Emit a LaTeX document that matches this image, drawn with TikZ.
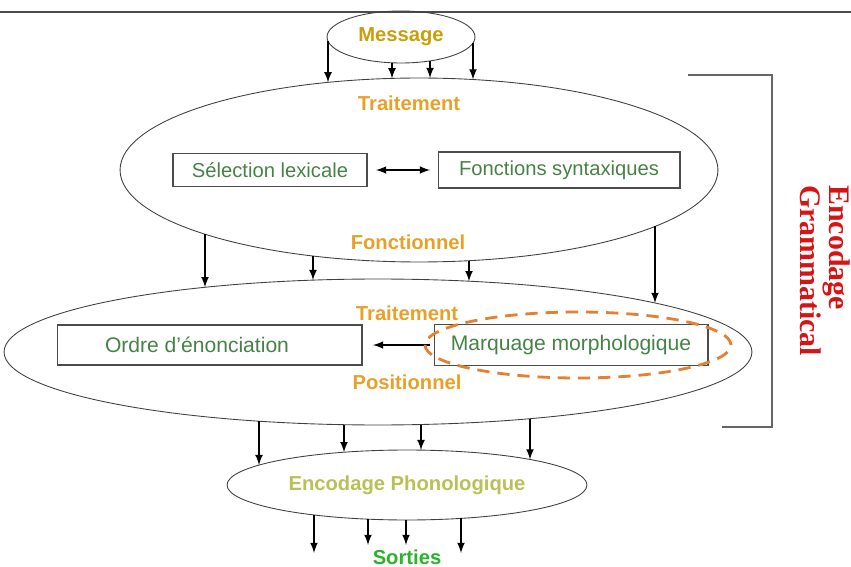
\documentclass[tikz,border=0pt]{standalone}
\usepackage{fontspec}
\setmainfont{Liberation Sans}
\newfontfamily\serifbf{Liberation Serif}
\usepackage{tikz}
\usetikzlibrary{shapes,arrows}

\definecolor{msgcol}{RGB}{200,158,10}
\definecolor{orcol}{RGB}{232,160,40}
\definecolor{phocol}{RGB}{185,192,85}
\definecolor{sorcol}{RGB}{40,180,40}
\definecolor{boxcol}{RGB}{70,130,70}
\definecolor{redcol}{RGB}{215,20,20}
\definecolor{dashcol}{RGB}{228,128,50}

\tikzset{
  ell/.style={ellipse,draw=black!75,line width=0.5pt,inner sep=0pt,outer sep=0pt},
  lab/.style={font=\bfseries\fontsize{11.5}{13}\selectfont,text=orcol},
  boite/.style={draw=black!70,line width=0.6pt,text=boxcol,inner sep=0pt,outer sep=0pt,
    font=\fontsize{11.5}{13}\selectfont},
  fl/.style={-latex,line width=1pt},
  declare function={
    ebot(\px,\qx,\qy,\ra,\rb)=\qy+\rb*sqrt(1-((\px-\qx)/\ra)^2);
    etop(\px,\qx,\qy,\ra,\rb)=\qy-\rb*sqrt(1-((\px-\qx)/\ra)^2);
  }
}

\begin{document}
\begin{tikzpicture}[x=0.02cm,y=-0.02cm]
\useasboundingbox (0,0) rectangle (851,567);
\draw[black!70,line width=0.6pt] (0,12) -- (851,12);

\node[ell,minimum width=2.96cm,minimum height=1.04cm,
  font=\bfseries\fontsize{11.5}{13}\selectfont,text=msgcol] (msg) at (401,37) {Message};
\node[ell,minimum width=11.96cm,minimum height=3.68cm] (fonc) at (419,170) {};
\node[ell,minimum width=14.96cm,minimum height=2.92cm] (posi) at (378,352) {};
\node[ell,minimum width=7.2cm,minimum height=1.4cm,
  font=\bfseries\fontsize{11.5}{13}\selectfont,text=phocol] (phono) at (407,485) {Encodage Phonologique};

\node[lab] (trait1) at (409,103) {Traitement};
\node[lab] (fonctionnel) at (408,242) {Fonctionnel};
\node[lab] (trait2) at (407,313) {Traitement};
\node[lab] (positionnel) at (407,382) {Positionnel};

\node[boite,minimum width=3.88cm,minimum height=0.66cm] (lex) at (270,170) {Sélection lexicale};
\node[boite,minimum width=4.84cm,minimum height=0.72cm] (synt) at (559,170) {Fonctions syntaxiques};
\node[boite,minimum width=6.1cm,minimum height=0.8cm,font=\fontsize{12}{14}\selectfont] (ordre) at (209.5,345) {Ordre d’énonciation\hspace*{0.5cm}};
\node[boite,minimum width=5.48cm,minimum height=0.82cm,font=\fontsize{12}{14}\selectfont] (marq) at (571,345) {Marquage morphologique};

\draw[fl,latex-latex,shorten <=0.18cm,shorten >=0.16cm] (lex) -- (synt);
\draw[fl,shorten <=0.08cm,shorten >=0.22cm] (marq.west) -- (ordre.east);

\node[ellipse,draw=dashcol,line width=1.6pt,dash pattern=on 7pt off 4.5pt,inner sep=0pt,
  minimum width=6.12cm,minimum height=1.32cm] (focus) at (578,345) {};

\foreach \x [count=\i] in {328,392,430,473}{
  \coordinate (msgout\i) at (\x,{ebot(\x,401,37,74,26)});
  \coordinate (foncin\i) at (\x,{etop(\x,419,170,299,92)});
  \draw[fl] (msgout\i) -- (foncin\i);
}
\foreach \x [count=\i] in {205,313,469,655}{
  \coordinate (foncout\i) at (\x,{ebot(\x,419,170,299,92)});
  \coordinate (posiin\i) at (\x,{etop(\x,378,352,374,73)});
  \draw[fl] (foncout\i) -- (posiin\i);
}
\foreach \x [count=\i] in {259,344,421,530}{
  \coordinate (posiout\i) at (\x,{ebot(\x,378,352,374,73)});
  \coordinate (phonoin\i) at (\x,{etop(\x,407,485,180,35)});
  \draw[fl] (posiout\i) -- (phonoin\i);
}
\foreach \x/\y [count=\i] in {314/553,368/545,406/545,461/553}{
  \coordinate (phonoout\i) at (\x,{ebot(\x,407,485,180,35)});
  \coordinate (sortie\i) at (\x,\y);
  \draw[fl] (phonoout\i) -- (sortie\i);
}
\node[font=\bfseries\fontsize{11.5}{13}\selectfont,text=sorcol] (sorties) at (407,557) {Sorties};

\draw[black!60,line width=0.7pt] (688,75) -- (772,75) -- (772,427) -- (722,427);
\node[rotate=-90,anchor=north west,inner sep=0pt,align=left,text=redcol,
  font=\serifbf\bfseries\fontsize{17}{17}\selectfont] (gram) at (851,185) {Encodage\\Grammatical};

\end{tikzpicture}
\end{document}
